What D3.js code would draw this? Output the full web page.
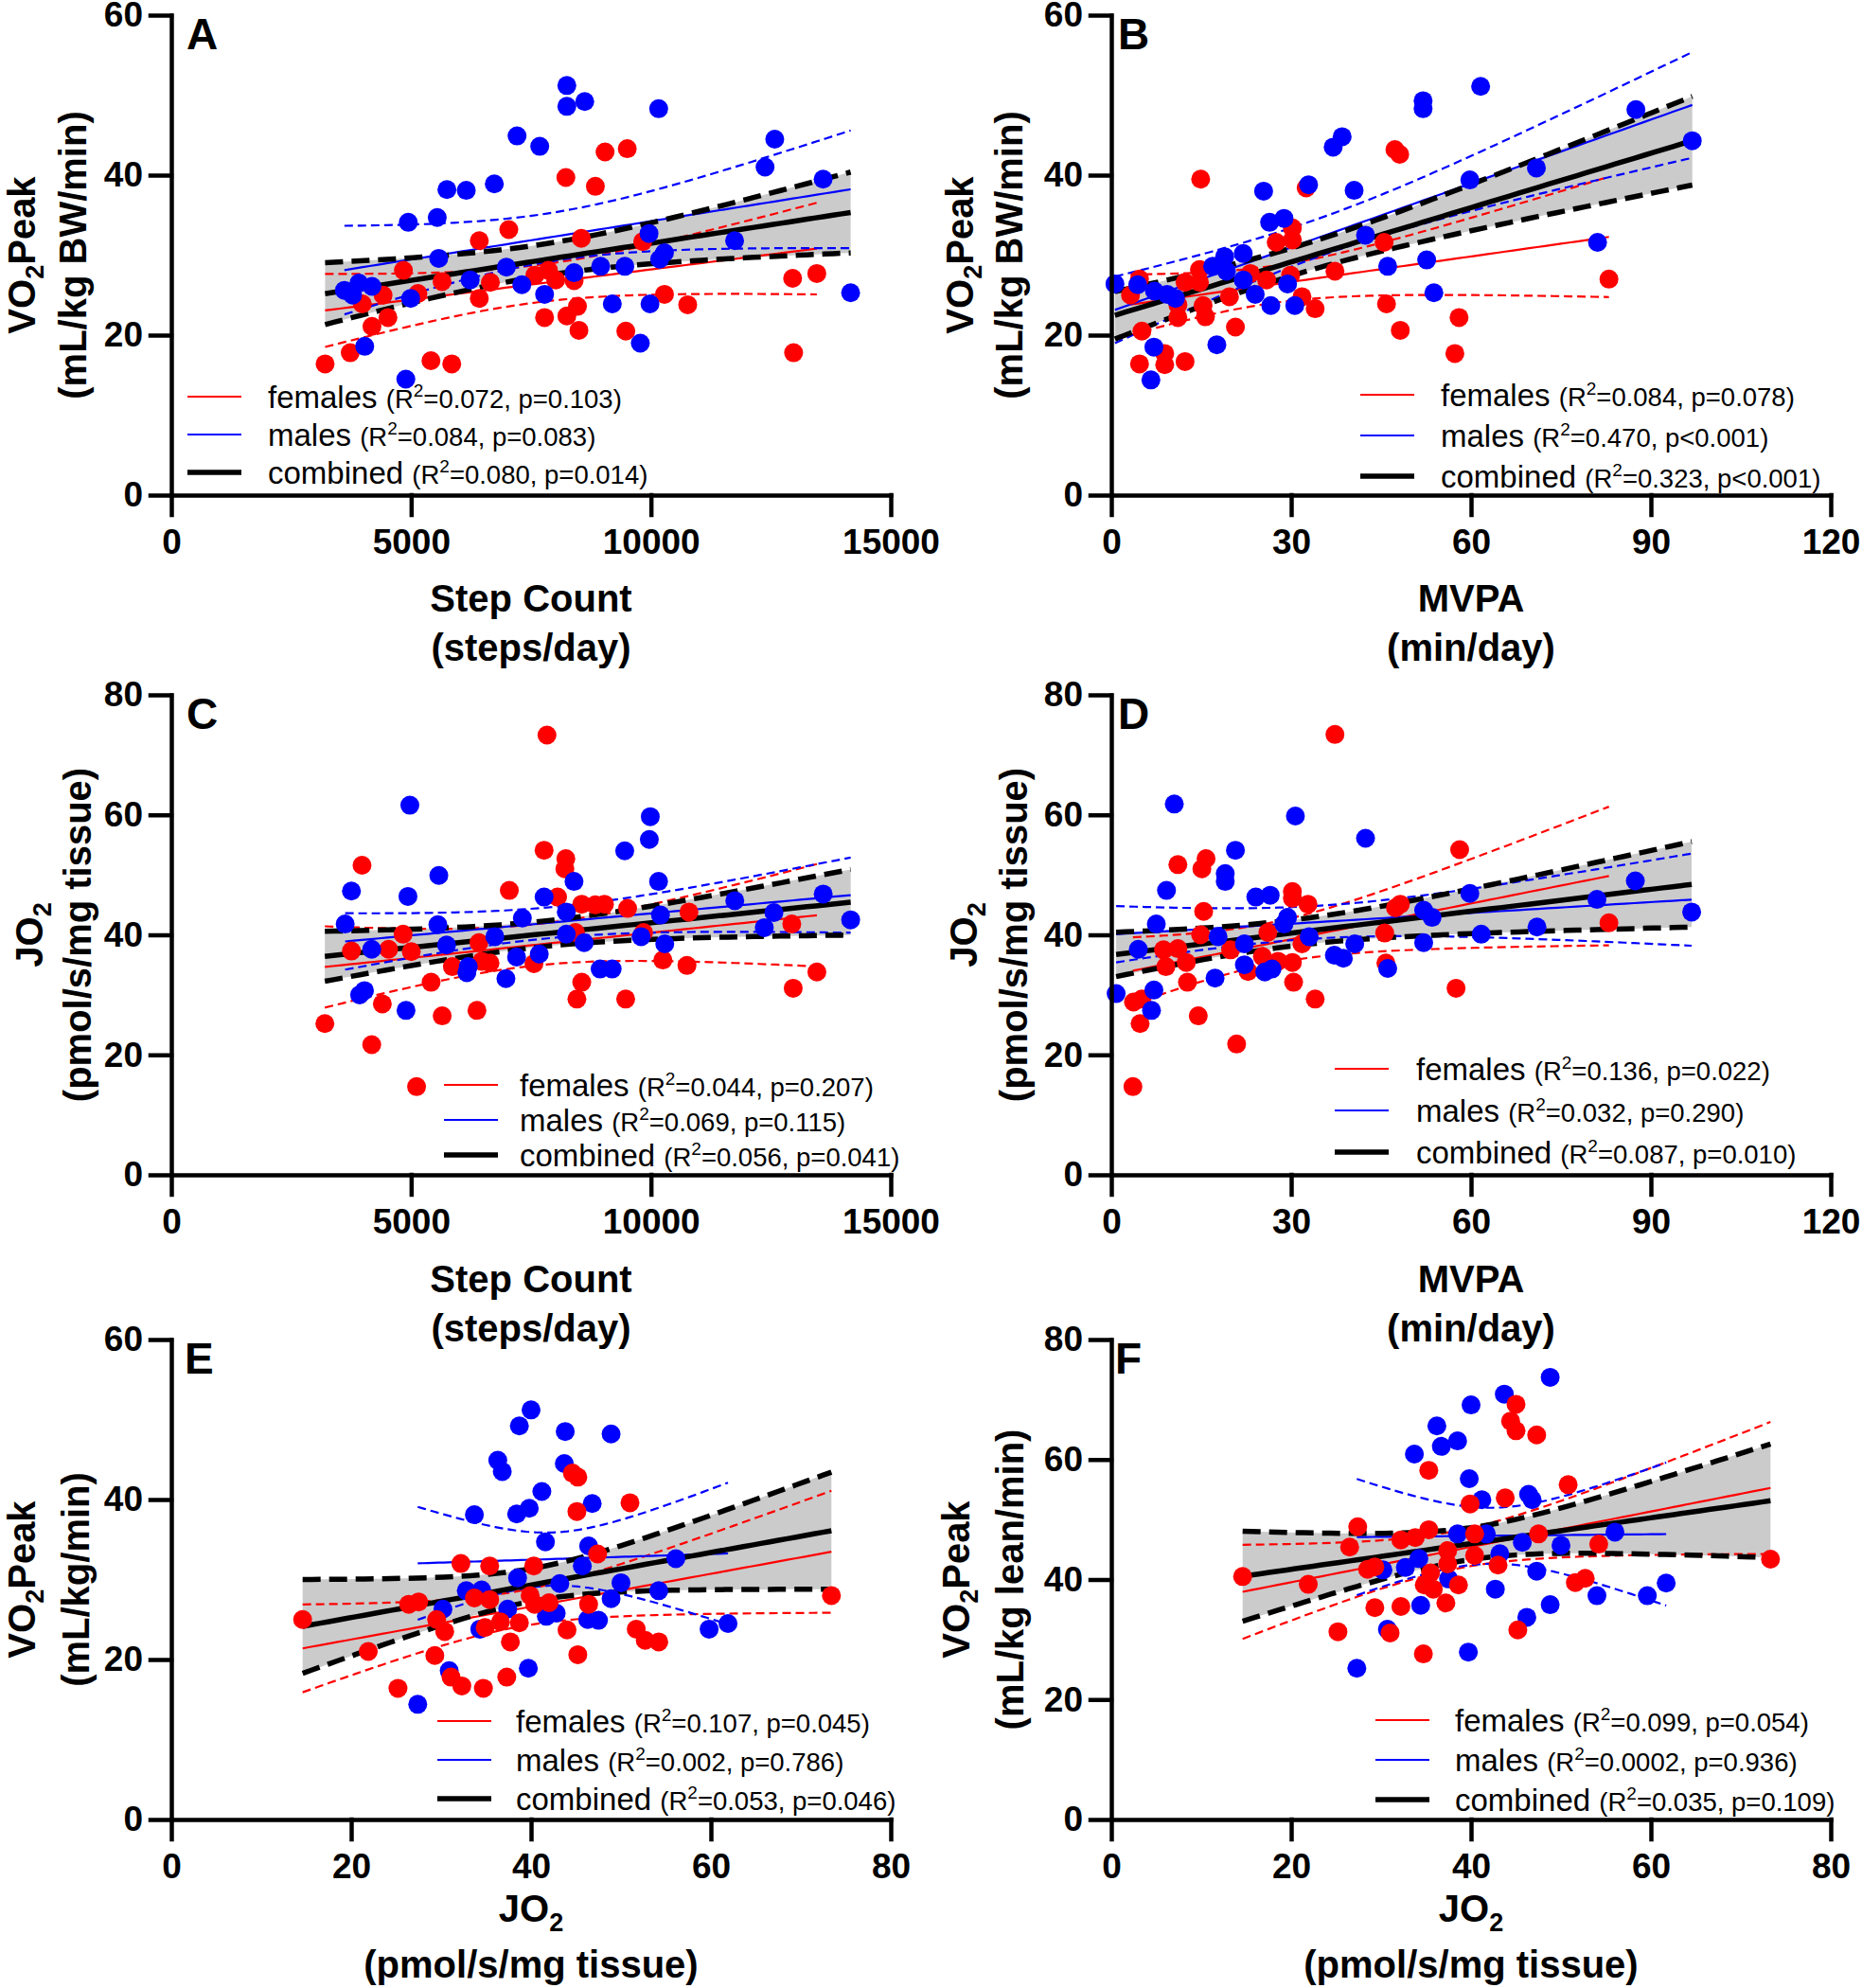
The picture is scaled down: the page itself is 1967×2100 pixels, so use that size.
<!DOCTYPE html>
<html>
<head>
<meta charset="utf-8">
<script src="https://cdn.jsdelivr.net/npm/d3@7"></script>
<style>
  body { margin: 0; background: #fff; }
  text { font-family: "Liberation Sans", Arial, Helvetica, sans-serif; }
</style>
</head>
<body>
<div id="chart"></div>
<script>
// ---- data, [x, y] per participant ----
// A: step count vs VO2peak (mL/kg BW/min)
var aFemales = [[3206,16.4],[3730,17.8],[3982,23.9],[4183,21.1],[4415,25.0],[4516,22.2],[4839,28.1],[5141,25.2],[5413,16.8],[5645,26.7],[5847,16.4],[6421,31.8],[6421,24.6],[6653,26.6],[7036,33.2],[7581,27.5],[7782,22.2],[7863,28.1],[8014,26.9],[8226,39.7],[8246,22.4],[8397,26.8],[8468,23.6],[8498,20.6],[8548,32.1],[8841,38.6],[9043,42.9],[9476,20.5],[9506,43.3],[9829,31.7],[10282,25.1],[10766,23.8],[12954,27.1],[12974,17.8],[13458,27.7]];
var aMales = [[3609,25.6],[3780,25.0],[3911,26.5],[4032,18.6],[4183,26.1],[4889,14.5],[4940,34.1],[4990,24.6],[5544,34.7],[5575,29.6],[5746,38.2],[6149,38.1],[6230,26.9],[6734,38.9],[6986,28.5],[7208,44.9],[7308,26.3],[7681,43.6],[7782,25.1],[8246,51.2],[8246,48.6],[8397,27.8],[8619,49.2],[8952,28.6],[9194,23.9],[9456,28.6],[9778,19.0],[9960,32.7],[9980,23.9],[10161,48.3],[10181,29.5],[10282,30.3],[11744,31.8],[12379,41.0],[12581,44.5],[13589,39.5],[14163,25.3]];

// B: MVPA vs VO2peak (mL/kg BW/min)
var bFemales = [[14.9,39.5],[47.3,43.2],[48.1,42.6],[32.5,38.4],[30.2,33.4],[27.5,31.6],[30.2,31.9],[45.5,31.6],[37.3,28.0],[83.0,27.0],[14.7,28.2],[23.2,27.7],[25.9,26.9],[29.9,27.5],[12.3,26.6],[14.7,26.6],[4.7,27.0],[3.2,25.0],[11.1,23.8],[15.3,23.7],[19.7,24.8],[15.7,22.3],[11.1,22.2],[31.8,24.8],[34.0,23.3],[45.9,23.9],[58.0,22.2],[48.2,20.6],[5.1,20.5],[20.7,21.0],[8.9,17.7],[8.9,16.3],[4.7,16.4],[12.3,16.7],[57.3,17.7]];
var bMales = [[61.6,51.1],[52.0,49.3],[52.0,48.3],[87.5,48.2],[96.9,44.3],[38.5,44.8],[37.0,43.5],[70.9,40.9],[59.8,39.4],[25.4,38.0],[32.9,38.8],[40.5,38.1],[26.4,34.1],[28.8,34.6],[42.4,32.5],[81.1,31.6],[52.6,29.4],[46.1,28.6],[22.0,30.2],[18.9,29.8],[16.9,28.6],[19.2,28.0],[22.0,26.9],[29.4,26.4],[4.4,26.3],[0.6,26.4],[7.2,25.5],[9.3,25.1],[10.7,24.6],[24.0,25.1],[26.6,23.7],[30.6,23.7],[53.8,25.3],[17.6,18.8],[7.1,18.5],[6.6,14.4]];

// C: step count vs JO2
var cFemales = [[7832,73.3],[7772,54.1],[8225,52.7],[8205,51.0],[3976,51.6],[7047,47.4],[8053,46.3],[8557,45.1],[8839,45.0],[9030,45.1],[9513,44.4],[10792,43.8],[12936,41.8],[4832,40.1],[3755,37.3],[4530,37.6],[5003,37.2],[6413,38.7],[8426,40.4],[9846,40.4],[5859,34.7],[6644,35.3],[6473,35.6],[7560,35.2],[10248,35.8],[10751,34.9],[13459,33.8],[5416,32.1],[8557,32.1],[12966,31.1],[8456,29.3],[9473,29.3],[4399,28.5],[5647,26.5],[6372,27.4],[3201,25.2],[4178,21.7],[5113,14.7]];
var cMales = [[4973,61.6],[9986,59.7],[9966,55.9],[9453,54.0],[5577,49.9],[10158,48.9],[8396,48.9],[3755,47.3],[4933,46.4],[7772,46.3],[11748,45.7],[13591,46.8],[7319,42.8],[8235,43.8],[10198,43.3],[12564,43.7],[14164,42.5],[3624,41.8],[5557,41.7],[12363,41.2],[8235,40.1],[9795,39.7],[8607,38.7],[10288,38.5],[4178,37.6],[5738,38.3],[6745,39.7],[7198,36.3],[7671,36.8],[6191,34.7],[6161,33.7],[8940,34.3],[9191,34.3],[6976,32.7],[4027,30.7],[3926,30.0],[4893,27.4]];

// D: MVPA vs JO2
var dFemales = [[37.3,73.4],[58.1,54.2],[11.1,51.7],[15.8,52.7],[15.1,51.0],[30.2,47.2],[30.2,46.1],[32.8,45.1],[48.2,45.1],[47.4,44.5],[15.4,43.9],[83.0,42.0],[14.9,40.0],[26.1,40.4],[45.6,40.3],[8.7,37.5],[11.1,37.7],[19.9,37.5],[31.8,38.5],[9.1,34.7],[12.5,35.4],[25.2,36.4],[22.8,33.9],[27.8,35.6],[30.2,35.4],[45.8,35.3],[12.7,32.1],[30.4,32.1],[57.5,31.1],[34.0,29.3],[3.7,28.8],[5.1,29.3],[4.8,25.2],[14.5,26.5],[20.9,21.8],[3.6,14.7]];
var dMales = [[10.5,61.8],[30.7,59.8],[42.4,56.1],[20.7,54.1],[19.0,50.2],[19.0,48.9],[9.2,47.4],[24.1,46.3],[26.5,46.6],[59.8,46.9],[87.4,49.0],[81.0,45.9],[52.1,44.1],[53.5,42.9],[96.8,43.8],[29.4,42.9],[28.8,41.8],[7.5,41.8],[71.0,41.3],[17.8,39.7],[33.0,39.7],[61.7,40.1],[22.2,38.5],[4.5,37.6],[52.1,38.7],[40.6,38.5],[37.2,36.6],[38.7,36.1],[22.2,35.0],[25.6,33.8],[26.8,34.3],[46.1,34.4],[17.3,32.8],[7.1,30.8],[0.8,30.2],[6.7,27.4]];

// E: JO2 vs VO2peak (mL/kg/min)
var eFemales = [[44.6,43.3],[45.2,42.8],[51.0,39.6],[45.1,38.5],[47.4,33.2],[32.2,32.0],[35.4,31.7],[40.3,31.7],[26.4,26.9],[27.5,27.2],[33.7,27.7],[35.4,27.5],[39.9,28.0],[40.4,26.9],[42.0,27.1],[46.4,26.9],[73.4,28.0],[14.6,25.0],[29.5,25.0],[30.4,23.5],[34.9,24.0],[36.6,24.7],[38.7,24.6],[37.7,22.2],[44.0,23.7],[51.7,23.8],[52.7,22.4],[54.2,22.2],[21.9,21.0],[29.3,20.5],[45.2,20.6],[25.2,16.4],[31.1,17.8],[32.3,16.7],[34.7,16.4],[37.3,17.8]];
var eMales = [[40.0,51.2],[38.7,49.2],[43.8,48.5],[48.9,48.2],[36.3,44.9],[36.8,43.5],[43.7,44.5],[41.2,41.0],[46.8,39.5],[33.7,38.1],[38.4,38.2],[39.8,38.9],[41.6,34.7],[46.4,34.2],[45.7,31.7],[56.1,32.6],[38.5,30.2],[43.2,29.5],[50.0,29.6],[32.8,28.6],[34.5,28.7],[48.9,27.6],[54.2,28.6],[30.2,26.3],[37.4,26.3],[41.7,25.4],[42.8,25.8],[46.3,25.0],[47.5,24.9],[34.3,23.8],[59.8,23.8],[61.9,24.5],[30.9,18.6],[39.7,18.9],[27.4,14.4]];

// F: JO2 vs VO2peak (mL/kg lean/min)
var fFemales = [[45.0,69.2],[44.4,66.4],[45.0,64.8],[47.3,64.1],[35.3,58.2],[50.8,55.8],[43.8,53.6],[39.9,52.6],[27.4,48.8],[35.3,48.3],[40.4,47.6],[47.5,47.6],[32.2,46.6],[33.8,47.0],[26.5,45.4],[54.2,45.9],[37.4,44.8],[40.4,44.0],[29.3,42.1],[28.5,41.7],[37.4,42.6],[43.0,42.4],[35.5,41.1],[14.6,40.5],[73.3,43.4],[21.9,39.2],[34.8,39.1],[35.8,38.4],[38.6,39.1],[51.6,39.5],[52.7,40.2],[37.2,36.1],[29.3,35.3],[32.2,35.5],[25.2,31.3],[31.0,31.1],[45.2,31.6],[34.7,27.6]];
var fMales = [[48.8,73.7],[43.7,70.9],[40.0,69.1],[36.2,65.6],[38.5,63.1],[36.7,62.2],[33.7,60.9],[39.8,56.8],[41.2,53.3],[46.4,54.2],[46.8,53.3],[56.0,47.9],[38.5,47.6],[41.7,47.6],[45.7,46.2],[50.0,45.7],[43.2,44.3],[34.2,43.5],[32.7,42.0],[30.2,41.6],[47.3,41.4],[37.5,40.1],[61.7,39.4],[42.7,38.4],[54.0,37.3],[59.6,37.3],[34.4,35.7],[48.8,35.8],[46.2,33.7],[30.7,31.7],[39.7,27.9],[27.3,25.2]];

// tick labels
var stepTicks = [0, 5000, 10000, 15000];
var mvpaTicks = [0, 30, 60, 90, 120];
var jo2Ticks = [0, 20, 40, 60, 80];
var yTicks60 = [0, 20, 40, 60];
var yTicks80 = [0, 20, 40, 60, 80];

// legend stats: [R2, p] for females, males, combined
var groupNames = ["females", "males", "combined"];
var statsA = [["0.072", "=0.103"], ["0.084", "=0.083"], ["0.080", "=0.014"]];
var statsB = [["0.084", "=0.078"], ["0.470", "<0.001"], ["0.323", "<0.001"]];
var statsC = [["0.044", "=0.207"], ["0.069", "=0.115"], ["0.056", "=0.041"]];
var statsD = [["0.136", "=0.022"], ["0.032", "=0.290"], ["0.087", "=0.010"]];
var statsE = [["0.107", "=0.045"], ["0.002", "=0.786"], ["0.053", "=0.046"]];
var statsF = [["0.099", "=0.054"], ["0.0002", "=0.936"], ["0.035", "=0.109"]];

// ---- layout ----
var W = 1967, H = 2100, pw = 760, ph = 507;
var RED = "#ff0000", BLUE = "#0000ff", BAND = "#cbcbcb";

var panels = [
  {letter: "A", left: 181, top: 16, fem: aFemales, mal: aMales, xDomain: [0, 15000], xTicks: stepTicks,
   yDomain: [0, 60], yTicks: yTicks60, stats: statsA, xTitle: ["Step Count", "(steps/day)"], xSub: false,
   xOff: [109, 161], yMain: "VO", yRest: "Peak", yUnit: "(mL/kg BW/min)", yOff: [-158, -104], malesOnTop: true,
   lg: {lx: 17, tx: 102, y: 403, gap: 40}, letterX: 16},
  {letter: "B", left: 1174, top: 16, fem: bFemales, mal: bMales, xDomain: [0, 120], xTicks: mvpaTicks,
   yDomain: [0, 60], yTicks: yTicks60, stats: statsB, xTitle: ["MVPA", "(min/day)"], xSub: false,
   xOff: [109, 161], yMain: "VO", yRest: "Peak", yUnit: "(mL/kg BW/min)", yOff: [-160, -108], malesOnTop: true,
   lg: {lx: 263, tx: 348, y: 401, gap: 43}, letterX: 7},
  {letter: "C", left: 181, top: 734, fem: cFemales, mal: cMales, xDomain: [0, 15000], xTicks: stepTicks,
   yDomain: [0, 80], yTicks: yTicks80, stats: statsC, xTitle: ["Step Count", "(steps/day)"], xSub: false,
   xOff: [110, 162], yMain: "JO", yRest: "", yUnit: "(pmol/s/mg tissue)", yOff: [-150, -99], malesOnTop: true,
   lg: {lx: 288, tx: 368, y: 412, gap: 37}, letterX: 16},
  {letter: "D", left: 1174, top: 734, fem: dFemales, mal: dMales, xDomain: [0, 120], xTicks: mvpaTicks,
   yDomain: [0, 80], yTicks: yTicks80, stats: statsD, xTitle: ["MVPA", "(min/day)"], xSub: false,
   xOff: [110, 162], yMain: "JO", yRest: "", yUnit: "(pmol/s/mg tissue)", yOff: [-156, -103], malesOnTop: true,
   lg: {lx: 236, tx: 322, y: 395, gap: 44}, letterX: 7},
  {letter: "E", left: 181, top: 1415, fem: eFemales, mal: eMales, xDomain: [0, 80], xTicks: jo2Ticks,
   yDomain: [0, 60], yTicks: yTicks60, stats: statsE, xTitle: ["JO", "(pmol/s/mg tissue)"], xSub: true,
   xOff: [94, 153], yMain: "VO", yRest: "Peak", yUnit: "(mL/kg/min)", yOff: [-158, -101], malesOnTop: false,
   lg: {lx: 281, tx: 364, y: 403, gap: 41}, letterX: 14},
  {letter: "F", left: 1174, top: 1415, fem: fFemales, mal: fMales, xDomain: [0, 80], xTicks: jo2Ticks,
   yDomain: [0, 80], yTicks: yTicks80, stats: statsF, xTitle: ["JO", "(pmol/s/mg tissue)"], xSub: true,
   xOff: [94, 153], yMain: "VO", yRest: "Peak", yUnit: "(mL/kg lean/min)", yOff: [-164, -107], malesOnTop: false,
   lg: {lx: 279, tx: 363, y: 402, gap: 42}, letterX: 4}
];

// t critical value (two-sided 95%) approximation
function tCrit(df) {
  var z = 1.959964;
  return z + (z * z * z + z) / (4 * df) + (5 * Math.pow(z, 5) + 16 * z * z * z + 3 * z) / (96 * df * df);
}

// least squares line with 95% confidence band of the mean
function fit(pts) {
  var n = pts.length,
      mx = d3.mean(pts, function(d) { return d[0]; }),
      my = d3.mean(pts, function(d) { return d[1]; });
  var sxx = d3.sum(pts, function(d) { return (d[0] - mx) * (d[0] - mx); }),
      sxy = d3.sum(pts, function(d) { return (d[0] - mx) * (d[1] - my); });
  var b = sxy / sxx, a = my - b * mx;
  var s = Math.sqrt(d3.sum(pts, function(d) { return Math.pow(d[1] - a - b * d[0], 2); }) / (n - 2));
  var t = tCrit(n - 2);
  var ext = d3.extent(pts, function(d) { return d[0]; });
  return d3.range(0, 61).map(function(i) {
    var x = ext[0] + (ext[1] - ext[0]) * i / 60,
        yh = a + b * x,
        se = s * Math.sqrt(1 / n + (x - mx) * (x - mx) / sxx);
    return {x: x, y: yh, lo: yh - t * se, hi: yh + t * se};
  });
}

var svg = d3.select("#chart").append("svg")
    .attr("width", W)
    .attr("height", H);

svg.append("rect").attr("width", W).attr("height", H).style("fill", "#fff");

panels.forEach(function(p) {
  var g = svg.append("g")
      .attr("transform", "translate(" + p.left + "," + p.top + ")");

  var x = d3.scaleLinear().domain(p.xDomain).range([0, pw]);
  var y = d3.scaleLinear().domain(p.yDomain).range([ph, 0]);

  var fc = fit(p.fem.concat(p.mal)),
      ff = fit(p.fem),
      fm = fit(p.mal);

  var line = function(key) {
    return d3.line().x(function(d) { return x(d.x); }).y(function(d) { return y(d[key]); });
  };

  // grey confidence band of the combined fit
  g.append("path").datum(fc)
      .attr("d", d3.area()
          .x(function(d) { return x(d.x); })
          .y0(function(d) { return y(d.lo); })
          .y1(function(d) { return y(d.hi); }))
      .style("fill", BAND);

  // group fits (thin)
  [[ff, RED], [fm, BLUE]].forEach(function(f) {
    ["lo", "hi"].forEach(function(k) {
      g.append("path").datum(f[0]).attr("d", line(k))
          .style("fill", "none").style("stroke", f[1])
          .style("stroke-width", 2.2).style("stroke-dasharray", "9,5");
    });
    g.append("path").datum(f[0]).attr("d", line("y"))
        .style("fill", "none").style("stroke", f[1]).style("stroke-width", 2.2);
  });

  // combined fit (thick)
  ["lo", "hi"].forEach(function(k) {
    g.append("path").datum(fc).attr("d", line(k))
        .style("fill", "none").style("stroke", "#000")
        .style("stroke-width", 5.5).style("stroke-dasharray", "19,9");
  });
  g.append("path").datum(fc).attr("d", line("y"))
      .style("fill", "none").style("stroke", "#000").style("stroke-width", 5.5);

  // points
  var order = p.malesOnTop ? [[p.fem, RED], [p.mal, BLUE]] : [[p.mal, BLUE], [p.fem, RED]];
  order.forEach(function(s) {
    g.selectAll(null)
        .data(s[0])
      .enter().append("circle")
        .attr("cx", function(d) { return x(d[0]); })
        .attr("cy", function(d) { return y(d[1]); })
        .attr("r", 10)
        .style("fill", s[1]);
  });

  // axes
  var xAxis = g.append("g")
      .attr("transform", "translate(0," + ph + ")")
      .call(d3.axisBottom(x).tickValues(p.xTicks).tickFormat(d3.format("d"))
          .tickSize(21).tickSizeOuter(0).tickPadding(15));
  var yAxis = g.append("g")
      .call(d3.axisLeft(y).tickValues(p.yTicks).tickFormat(d3.format("d"))
          .tickSize(22).tickSizeOuter(0).tickPadding(8));
  [xAxis, yAxis].forEach(function(ax) {
    ax.selectAll("path, line").style("stroke", "#000").style("stroke-width", 4.5)
        .style("stroke-linecap", "square");
    ax.selectAll("text")
        .attr("font-family", "'Liberation Sans', Arial, sans-serif")
        .attr("font-size", 37).attr("font-weight", "bold").style("fill", "#000");
  });

  // panel letter
  g.append("text")
      .attr("x", p.letterX)
      .attr("y", 36)
      .attr("font-size", 46)
      .attr("font-weight", "bold")
      .text(p.letter);

  // y title (two rotated lines)
  var cy = ph / 2;
  var t1 = g.append("text")
      .attr("transform", "translate(" + (p.yOff[0] + 14) + "," + cy + ") rotate(-90)")
      .attr("text-anchor", "middle")
      .attr("font-size", 40)
      .attr("font-weight", "bold");
  t1.append("tspan").text(p.yMain);
  t1.append("tspan").attr("font-size", 27).attr("dy", 9).text("2");
  if (p.yRest) t1.append("tspan").attr("dy", -9).text(p.yRest);

  g.append("text")
      .attr("transform", "translate(" + (p.yOff[1] + 14) + "," + cy + ") rotate(-90)")
      .attr("text-anchor", "middle")
      .attr("font-size", 40)
      .attr("font-weight", "bold")
      .text(p.yUnit);

  // x title
  var x1 = g.append("text")
      .attr("x", pw / 2)
      .attr("y", ph + p.xOff[0] + 14)
      .attr("text-anchor", "middle")
      .attr("font-size", 40)
      .attr("font-weight", "bold");
  x1.append("tspan").text(p.xTitle[0]);
  if (p.xSub) x1.append("tspan").attr("font-size", 27).attr("dy", 10).text("2");

  g.append("text")
      .attr("x", pw / 2)
      .attr("y", ph + p.xOff[1] + 14)
      .attr("text-anchor", "middle")
      .attr("font-size", 40)
      .attr("font-weight", "bold")
      .text(p.xTitle[1]);

  // legend
  var colors = [RED, BLUE, "#000"], widths = [2.2, 2.2, 5.5];
  groupNames.forEach(function(name, i) {
    var ly = p.lg.y + i * p.lg.gap;
    g.append("line")
        .attr("x1", p.lg.lx).attr("x2", p.lg.lx + 57)
        .attr("y1", ly).attr("y2", ly)
        .style("stroke", colors[i]).style("stroke-width", widths[i]);
    var t = g.append("text")
        .attr("x", p.lg.tx)
        .attr("y", ly + 12);
    t.append("tspan").attr("font-size", 33).text(name + " ");
    t.append("tspan").attr("font-size", 27.5).text("(R");
    t.append("tspan").attr("font-size", 19).attr("dy", -12).text("2");
    t.append("tspan").attr("font-size", 27.5).attr("dy", 12)
        .text("=" + p.stats[i][0] + ", p" + p.stats[i][1] + ")");
  });
});
</script>
</body>
</html>
